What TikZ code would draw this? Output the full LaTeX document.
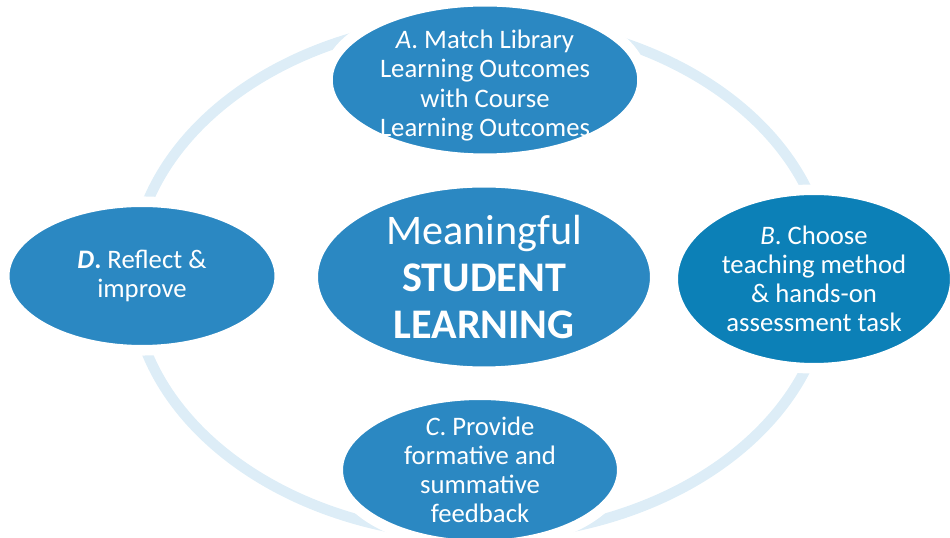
\documentclass[tikz,border=0pt]{standalone}
\usepackage{fontspec}
\setmainfont{Carlito}
\usetikzlibrary{shapes.geometric}

\definecolor{stepblue}{HTML}{2B88C2}
\definecolor{chosenblue}{HTML}{0C80B7}
\definecolor{ringblue}{HTML}{DDEDF7}

\tikzset{
	phase/.style={ellipse, fill=stepblue, draw=white, line width=6pt, inner sep=0pt},
	phasetext/.style={text=white, align=center, inner sep=0pt, font=\fontsize{15.2}{16.6}\selectfont},
	hubtext/.style={text=white, align=center, inner sep=0pt, font=\fontsize{24}{26.7}\selectfont}
}

\begin{document}
\begin{tikzpicture}
		\useasboundingbox (0,0) rectangle (19,10.74);
		\coordinate (O) at (9.6,5.18);

		% pale cycle running behind the four steps
		\draw[ringblue, line width=6pt] (O) ellipse (6.96 and 5.16);

		\node[phase, minimum width=6.85cm, minimum height=3.79cm,
			label={[hubtext]center:{Meaningful\\\textbf{STUDENT}\\\textbf{LEARNING}}}] (hub) at (9.68,5.2) {};

		\node[phase, minimum width=6.3cm, minimum height=3.15cm,
			label={[phasetext, yshift=-0.11cm]center:{\textit{A}. Match Library\\Learning Outcomes\\with Course\\Learning Outcomes}}] (match) at (9.7,9.14) {};
		\node[phase, fill=chosenblue, minimum width=5.65cm, minimum height=3.57cm,
			label={[phasetext]center:{\textit{B}. Choose\\teaching method\\\& hands-on\\assessment task}}] (choose) at (16.28,5.16) {};
		\node[phase, minimum width=5.69cm, minimum height=3.01cm,
			label={[phasetext]center:{\textit{C}. Provide\\formative and\\summative\\feedback}}] (feedback) at (9.6,1.34) {};
		\node[phase, minimum width=5.51cm, minimum height=2.97cm,
			label={[phasetext]center:{\textbf{\textit{D}.} Reflect \&\\improve}}] (reflect) at (2.84,5.22) {};
	\end{tikzpicture}
\end{document}
